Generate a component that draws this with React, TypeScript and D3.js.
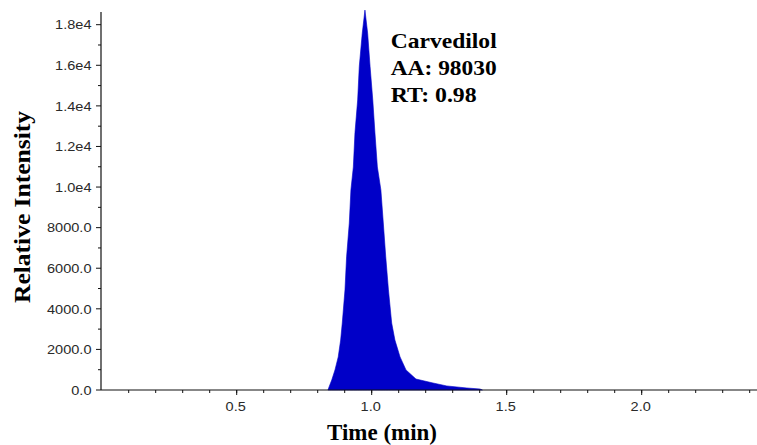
import React from "react";
import * as d3 from "d3";

// ---- data ----
const peakTimes = [
  0.838, 0.842, 0.852, 0.864, 0.876, 0.885, 0.891, 0.901, 0.907, 0.917, 0.923, 0.932,
  0.938, 0.948, 0.954, 0.965, 0.975, 0.985, 0.994, 1.004, 1.012, 1.021, 1.034, 1.043,
  1.052, 1.062, 1.074, 1.086, 1.105, 1.127, 1.164, 1.227, 1.278, 1.352, 1.401, 1.41,
];
const peakIntensities = [
  0, 150, 490, 990, 1630, 2460, 3300, 4930, 6560, 8230, 9860, 10990,
  12670, 14290, 15940, 17580, 18720, 17580, 15940, 14290, 12670, 10990, 9860, 8230,
  6560, 4930, 3300, 2460, 1630, 990, 540, 345, 200, 100, 50, 0,
];
const yTickValues = [0, 2000, 4000, 6000, 8000, 10000, 12000, 14000, 16000, 18000];
const yTickLabels = ["0.0", "2000.0", "4000.0", "6000.0", "8000.0", "1.0e4", "1.2e4", "1.4e4", "1.6e4", "1.8e4"];
const xTickValues = [0.5, 1.0, 1.5, 2.0];
const xTickLabels = ["0.5", "1.0", "1.5", "2.0"];
const annotationLines = ["Carvedilol", "AA: 98030", "RT: 0.98"];
const xTitle = "Time (min)";
const yTitle = "Relative Intensity";

const W = 757;
const H = 445;
const X0 = 101;
const Y0 = 390;

export default function App() {
  const x = d3.scaleLinear().domain([0, 2.43]).range([X0 + 0.7, X0 + 0.7 + 2.43 * 270]);
  const y = d3.scaleLinear().domain([0, 18000]).range([Y0, 24.7]);

  const pts = peakTimes.map((t, i) => [t, peakIntensities[i]] as [number, number]);
  const area = d3
    .area<[number, number]>()
    .x((d) => x(d[0]))
    .y0(y(0))
    .y1((d) => y(d[1]))
    .curve(d3.curveLinear);

  const xMinor = d3.range(1, 25).map((i) => i / 10);
  const yMinor = d3.range(1000, 19000, 2000);

  const tickFont = "'Liberation Sans', Arial, sans-serif";
  const serif = "'Liberation Serif', 'Times New Roman', serif";

  return (
    <svg
      width={W}
      height={H}
      style={{ position: "absolute", left: 0, top: 0, background: "#fff" }}
    >
      <rect x={0} y={0} width={W} height={H} fill="#fff" />
      {/* peak */}
      <path d={area(pts) || ""} fill="#0000c8" stroke="#0000c8" strokeWidth={0.6} />

      {/* y axis */}
      <line x1={X0} x2={X0} y1={12} y2={Y0} stroke="#111" strokeWidth={1.2} />
      {yTickValues.map((v, i) => (
        <g key={"yt" + i}>
          <line x1={X0 - 5} x2={X0} y1={y(v)} y2={y(v)} stroke="#111" strokeWidth={1} />
          <text
            transform={`translate(91.5,${y(v)}) scale(1.12,1)`}
            textAnchor="end"
            dy="0.36em"
            fontFamily={tickFont}
            fontSize={13}
            fill="#2a2a2a"
          >
            {yTickLabels[i]}
          </text>
        </g>
      ))}
      {yMinor.map((v) => (
        <line key={"ym" + v} x1={X0 - 3} x2={X0} y1={y(v)} y2={y(v)} stroke="#111" strokeWidth={1} />
      ))}

      {/* x axis */}
      <line x1={X0} x2={W} y1={Y0} y2={Y0} stroke="#111" strokeWidth={1.2} />
      {xMinor.map((v) => (
        <line key={"xm" + v} x1={x(v)} x2={x(v)} y1={Y0} y2={Y0 + 3} stroke="#111" strokeWidth={1} />
      ))}
      {xTickValues.map((v, i) => (
        <g key={"xt" + i}>
          <line x1={x(v)} x2={x(v)} y1={Y0} y2={Y0 + 5} stroke="#111" strokeWidth={1} />
          <text
            transform={`translate(${x(v) - 1},410.5) scale(1.12,1)`}
            textAnchor="middle"
            fontFamily={tickFont}
            fontSize={13}
            fill="#2a2a2a"
          >
            {xTickLabels[i]}
          </text>
        </g>
      ))}

      {/* axis titles */}
      <text
        x={382}
        y={440}
        textAnchor="middle"
        fontFamily={serif}
        fontWeight="bold"
        fontSize={23}
        fill="#000"
        textLength={110}
        lengthAdjust="spacingAndGlyphs"
      >
        {xTitle}
      </text>
      <text
        transform="translate(29.5,207) rotate(-90)"
        textAnchor="middle"
        fontFamily={serif}
        fontWeight="bold"
        fontSize={24}
        fill="#000"
        textLength={192}
        lengthAdjust="spacingAndGlyphs"
      >
        {yTitle}
      </text>

      {/* annotation */}
      {annotationLines.map((s, i) => (
        <text
          key={"an" + i}
          x={390.7}
          y={47.7 + i * 27}
          fontFamily={serif}
          fontWeight="bold"
          fontSize={21.5}
          fill="#000"
          textLength={[106, 106, 86][i]}
          lengthAdjust="spacingAndGlyphs"
        >
          {s}
        </text>
      ))}
    </svg>
  );
}
